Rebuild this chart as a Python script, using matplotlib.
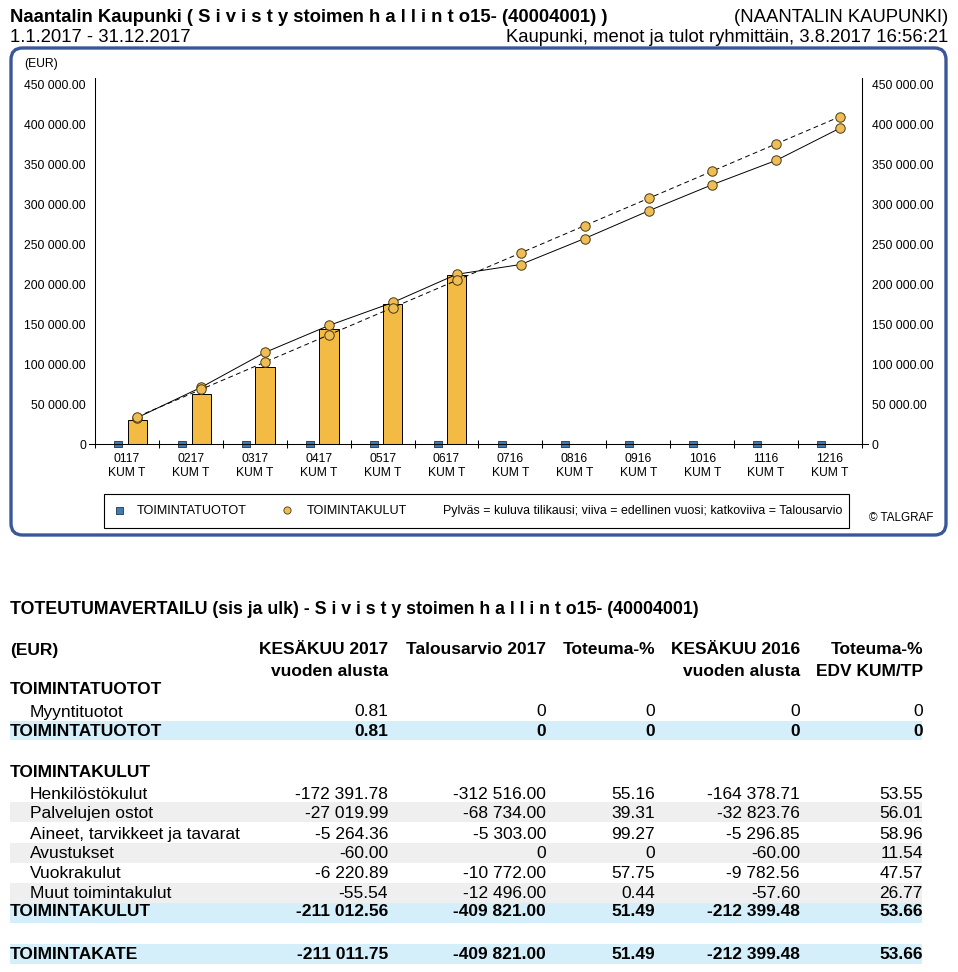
import matplotlib
matplotlib.use("Agg")

import matplotlib.pyplot as plt
import matplotlib.patches as mpatches
from matplotlib.lines import Line2D
from matplotlib.ticker import FuncFormatter, FixedLocator

plt.rcParams.update({
    "font.family": ["Liberation Sans", "DejaVu Sans"],
    "axes.linewidth": 0.75,
})

# ===================== data =====================
months = ["0117", "0217", "0317", "0417", "0517", "0617",
          "0716", "0816", "0916", "1016", "1116", "1216"]
tuotot_kum = [0.81, 0.81, 0.81, 0.81, 0.81, 0.81, 0, 0, 0, 0, 0, 0]
kulut_2017 = [30000, 62550, 96300, 143500, 175150, 211012.56]
kulut_2016 = [32900, 70900, 114600, 148300, 177100, 212399.48,
              224600, 257100, 291700, 324600, 355000, 395400]
kulut_budjetti = [34152, 68304, 102455, 136607, 170759, 204911,
                  239062, 273214, 307366, 341518, 375669, 409821]

row_labels = ["Myyntituotot", "TOIMINTATUOTOT",
              "Henkilöstökulut", "Palvelujen ostot", "Aineet, tarvikkeet ja tavarat",
              "Avustukset", "Vuokrakulut", "Muut toimintakulut",
              "TOIMINTAKULUT", "TOIMINTAKATE"]
kesakuu_2017 = [0.81, 0.81, -172391.78, -27019.99, -5264.36, -60.00,
                -6220.89, -55.54, -211012.56, -211011.75]
talousarvio_2017 = [0, 0, -312516.00, -68734.00, -5303.00, 0,
                    -10772.00, -12496.00, -409821.00, -409821.00]
toteuma_pct = [0, 0, 55.16, 39.31, 99.27, 0, 57.75, 0.44, 51.49, 51.49]
kesakuu_2016 = [0, 0, -164378.71, -32823.76, -5296.85, -60.00,
                -9782.56, -57.60, -212399.48, -212399.48]
toteuma_edv = [0, 0, 53.55, 56.01, 58.96, 11.54, 47.57, 26.77, 53.66, 53.66]

# ===================== figure =====================
W, H = 958, 972
fig = plt.figure(figsize=(W / 100, H / 100), dpi=100)


def fx(x):
    return x / W


def fy(y):
    return 1 - y / H


def T(x, y, s, **kw):
    kw.setdefault("va", "center")
    fig.text(fx(x), fy(y), s, **kw)


def fmt(v):
    if v == 0:
        return "0"
    return f"{v:,.2f}".replace(",", " ")


BAR = "#F3BB44"
DOT = "#EFBD57"
BLUE = "#3F7CB5"
FRAME = "#3A5899"

# header
HS = 13.3
T(10, 18, "Naantalin Kaupunki ( S i v i s t y stoimen h a l l i n t o15- (40004001) )",
  fontsize=HS, fontweight="bold")
T(948, 18, "(NAANTALIN KAUPUNKI)", fontsize=HS, ha="right")
T(10, 38, "1.1.2017 - 31.12.2017", fontsize=HS)
T(948, 38, "Kaupunki, menot ja tulot ryhmittäin, 3.8.2017 16:56:21", fontsize=HS, ha="right")

# chart frame
frame = mpatches.FancyBboxPatch(
    (fx(11), fy(535)), fx(946) - fx(11), fy(48) - fy(535),
    boxstyle="round,pad=0,rounding_size=0.012",
    transform=fig.transFigure, fill=False, edgecolor=FRAME, linewidth=2.4, zorder=0)
fig.patches.append(frame)

ax = fig.add_axes([fx(95), fy(444), fx(862) - fx(95), fy(78) - fy(444)])
x = list(range(len(months)))
ymax = 458000

ax.bar([i + 0.16 for i in range(len(kulut_2017))], kulut_2017, width=0.3,
       color=BAR, edgecolor="black", linewidth=0.7, zorder=2)
ax.plot([i + 0.16 for i in x], kulut_2016, color="black", lw=0.7, zorder=3)
ax.plot([i + 0.16 for i in x], kulut_budjetti, color="black", lw=0.7,
        dashes=(5, 3.5), zorder=3)
ax.plot([i + 0.16 for i in x], kulut_2016, ls="none", marker="o", ms=6.8,
        mfc=DOT, mec="#4a3a10", mew=0.7, zorder=4)
ax.plot([i + 0.16 for i in x], kulut_budjetti, ls="none", marker="o", ms=6.8,
        mfc=DOT, mec="#4a3a10", mew=0.7, zorder=4)
rect = [(-1, -0.65), (1, -0.65), (1, 0.65), (-1, 0.65), (-1, -0.65)]
ax.scatter([i - 0.14 for i in x], tuotot_kum, marker=rect, s=36,
           color=BLUE, edgecolors="#1d3550", linewidths=0.6, zorder=5, clip_on=False)

ax.set_xlim(-0.5, 11.5)
ax.set_ylim(0, ymax)
ax.spines["top"].set_visible(False)
ax.spines["bottom"].set_visible(False)
ax.add_line(Line2D([-0.0078, 1.0078], [0, 0], transform=ax.transAxes,
                   color="black", lw=0.75, clip_on=False, zorder=6))

ax.set_xticks(x)
ax.set_xticklabels([m + "\nKUM T" for m in months], fontsize=8.7)
ax.tick_params(axis="x", which="major", length=0, pad=6.5)
ax.xaxis.set_minor_locator(FixedLocator([i - 0.5 for i in range(13)]))
ax.tick_params(axis="x", which="minor", length=6, direction="inout", width=0.75)

yt = [0, 50000, 100000, 150000, 200000, 250000, 300000, 350000, 400000, 450000]
yfmt = FuncFormatter(lambda v, p: fmt(v))
ax.set_yticks(yt)
ax.yaxis.set_major_formatter(yfmt)
ax.tick_params(axis="y", length=0, pad=6.5, labelsize=8.7)

ax2 = ax.twinx()
ax2.set_ylim(0, ymax)
ax2.set_yticks(yt)
ax2.yaxis.set_major_formatter(yfmt)
ax2.tick_params(axis="y", length=0, pad=7, labelsize=8.7)
for s in ["top", "bottom", "left"]:
    ax2.spines[s].set_visible(False)

T(24, 64, "(EUR)", fontsize=8.7)

# legend box
LS = 9.1
fig.patches.append(mpatches.Rectangle((fx(103.5), fy(527.5)), fx(849) - fx(103.5),
                                      fy(494.5) - fy(527.5), transform=fig.transFigure,
                                      fill=False, edgecolor="black", linewidth=0.8))
fig.patches.append(mpatches.Rectangle((fx(116), fy(513.5)), fx(7), fx(7) * W / H,
                                      transform=fig.transFigure, facecolor=BLUE,
                                      edgecolor="#1d3550", linewidth=0.6))
fig.add_artist(Line2D([fx(286.7)], [fy(510)], marker="o", ms=5.2, mfc=DOT,
                      mec="#4a3a10", mew=0.6, transform=fig.transFigure))
T(136.7, 511, "TOIMINTATUOTOT", fontsize=LS)
T(306.7, 511, "TOIMINTAKULUT", fontsize=LS)
T(442.7, 511, "Pylväs = kuluva tilikausi; viiva = edellinen vuosi; katkoviiva = Talousarvio",
  fontsize=8.9)
T(869, 518, "© TALGRAF", fontsize=8.4)

# ===================== table =====================
TS = 12.5
T(10, 609, "TOTEUTUMAVERTAILU (sis ja ulk) - S i v i s t y stoimen h a l l i n t o15- (40004001)",
  fontsize=12.8, fontweight="bold")

col_right = [388, 546, 655, 800, 923]
T(10, 650, "(EUR)", fontsize=TS, fontweight="bold")
head1 = ["KESÄKUU 2017", "Talousarvio 2017", "Toteuma-%", "KESÄKUU 2016", "Toteuma-%"]
head2 = ["vuoden alusta", "", "", "vuoden alusta", "EDV KUM/TP"]
for cx, h1, h2 in zip(col_right, head1, head2):
    T(cx, 650, h1, fontsize=TS, fontweight="bold", ha="right")
    if h2:
        T(cx, 671, h2, fontsize=TS, fontweight="bold", ha="right")

T(10, 689, "TOIMINTATUOTOT", fontsize=TS, fontweight="bold")
T(10, 772, "TOIMINTAKULUT", fontsize=TS, fontweight="bold")

row_y = [712, 731, 794, 813, 834, 853, 873, 893, 912, 954]
row_band = [None, (721, 740), None, (802, 822), None, (843, 863), None, (883, 903),
            (903, 923), (944, 964)]
row_total = [False, True, False, False, False, False, False, False, True, True]

for i, lab in enumerate(row_labels):
    band = row_band[i]
    if band is not None:
        col = "#D4EEFA" if row_total[i] else "#EFEFEF"
        fig.patches.append(mpatches.Rectangle((fx(10), fy(band[1])), fx(922) - fx(10),
                                              fy(band[0]) - fy(band[1]),
                                              transform=fig.transFigure, facecolor=col,
                                              edgecolor="none", zorder=0))
    wt = "bold" if row_total[i] else "normal"
    T(10 if row_total[i] else 30, row_y[i], lab, fontsize=TS, fontweight=wt)
    vals = [kesakuu_2017[i], talousarvio_2017[i], toteuma_pct[i],
            kesakuu_2016[i], toteuma_edv[i]]
    for cx, v in zip(col_right, vals):
        T(cx, row_y[i], fmt(v), fontsize=TS, fontweight=wt, ha="right")

fig.savefig("out.png", dpi=100)
